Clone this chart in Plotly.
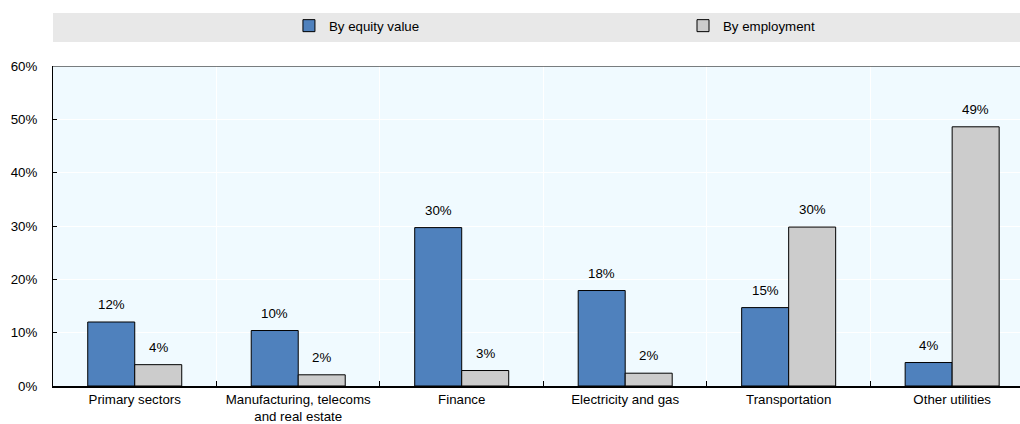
import plotly.graph_objects as go

categories = ["Primary sectors", "Manufacturing, telecoms<br>and real estate", "Finance",
              "Electricity and gas", "Transportation", "Other utilities"]
equity_value = [12.0, 10.4, 29.7, 17.9, 14.7, 4.4]
employment = [4.0, 2.1, 2.9, 2.4, 29.8, 48.6]
y_ticks = [0, 10, 20, 30, 40, 50, 60]

FONT = "Liberation Sans, Arial, sans-serif"
FS = 13.3

fig = go.Figure()
fig.add_trace(go.Bar(
    name="By equity value", x=categories, y=equity_value, legend="legend",
    marker=dict(color="#4F81BD", line=dict(color="#000000", width=1)),
))
fig.add_trace(go.Bar(
    name="By employment", x=categories, y=employment, legend="legend2",
    marker=dict(color="#CCCCCC", line=dict(color="#000000", width=1)),
))

# value labels above bars
annotations = []
for series, shift in ((equity_value, -23.5), (employment, 23.5)):
    for cat, val in zip(categories, series):
        annotations.append(dict(
            x=cat, y=val, xref="x", yref="y", text=f"{val:.0f}%", showarrow=False,
            xshift=shift, yshift=8, yanchor="bottom", font=dict(size=FS, color="#000000"),
        ))

fig.update_layout(
    width=1020, height=424,
    margin=dict(l=53, r=0, t=66, b=38, autoexpand=False),
    paper_bgcolor="white", plot_bgcolor="#F0FAFF",
    font=dict(family=FONT, size=FS, color="#000000"),
    barmode="group", bargap=0.425, bargroupgap=0,
    showlegend=True,
    legend=dict(orientation="h", x=0.244, y=1.125, xanchor="left", yanchor="middle",
                bgcolor="rgba(0,0,0,0)", font=dict(size=FS)),
    legend2=dict(orientation="h", x=0.6515, y=1.125, xanchor="left", yanchor="middle",
                 bgcolor="rgba(0,0,0,0)", font=dict(size=FS)),
    annotations=annotations,
    shapes=[
        dict(type="rect", xref="paper", yref="paper", x0=0, x1=1.0, y0=1.075, y1=1.166,
             fillcolor="#E8E8E8", line=dict(width=0), layer="below"),
        dict(type="line", xref="paper", yref="y", x0=0, x1=1, y0=60, y1=60,
             line=dict(color="#000000", width=1)),
    ],
)

fig.update_xaxes(
    range=[-0.5, 5.415], showline=True, linecolor="#000000", linewidth=2,
    tickson="boundaries", ticks="inside", ticklen=5, tickcolor="#000000",
    showgrid=True, gridcolor="#FFFFFF", gridwidth=1,
    tickfont=dict(size=FS),
)
fig.update_yaxes(
    range=[0, 60], tickvals=y_ticks, ticktext=[f"{v}%" for v in y_ticks],
    showline=True, linecolor="#000000", linewidth=1,
    ticks="inside", ticklen=4, tickcolor="#000000",
    showgrid=True, gridcolor="#FFFFFF", gridwidth=1, zeroline=False,
    ticklabelstandoff=12, tickfont=dict(size=FS),
)

fig.write_html("out.html")
